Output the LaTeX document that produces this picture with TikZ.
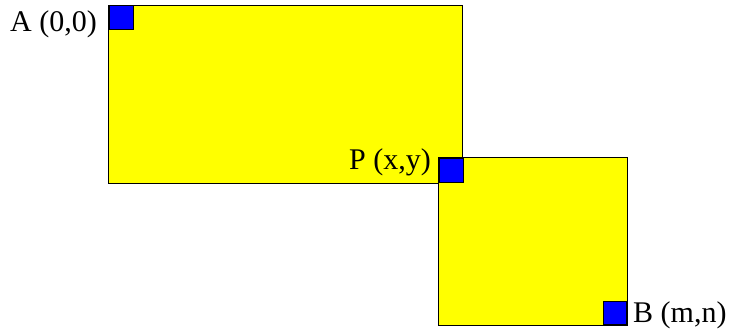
\documentclass[tikz,border=0pt]{standalone}
\usepackage{fontspec}
\setmainfont{Liberation Serif}
\usetikzlibrary{positioning}
\definecolor{myyellow}{HTML}{FFFF00}
\definecolor{myblue}{HTML}{0000FF}

\begin{document}
\begin{tikzpicture}[
		x=1pt,
		y=-1pt,
		line join=miter,
		panel/.style={draw=black,fill=myyellow,line width=0.8pt},
		marker/.style={draw=black,fill=myblue,line width=0.8pt},
		lbl/.style={font=\fontsize{30}{30}\selectfont,inner sep=0pt}
	]
	
	% Frame
	\useasboundingbox (0,0) rectangle (729,333);
	
	% Big rectangle
	\draw[panel] (108.5,5) rectangle (462.5,183);
	\node[marker,minimum size=24pt,inner sep=0pt,anchor=north west] (corA) at (109,5) {};
	
	% Small rectangle, drawn over the big one
	\draw[panel] (438,157) rectangle (627,325);
	\node[marker,minimum size=24pt,inner sep=0pt,anchor=north west] (corP) at (438.5,158) {};
	\node[marker,minimum size=23pt,inner sep=0pt,anchor=south east] (corB) at (626.5,324.5) {};
	
	% Labels
	\node[lbl,anchor=base east] (labA) at (97,31) {A (0,0)};
	\node[lbl,anchor=base east] (labP) at (431,169) {P (x,y)};
	\node[lbl,anchor=base west] (labB) at (633,322) {B (m,n)};
	
\end{tikzpicture}
\end{document}
